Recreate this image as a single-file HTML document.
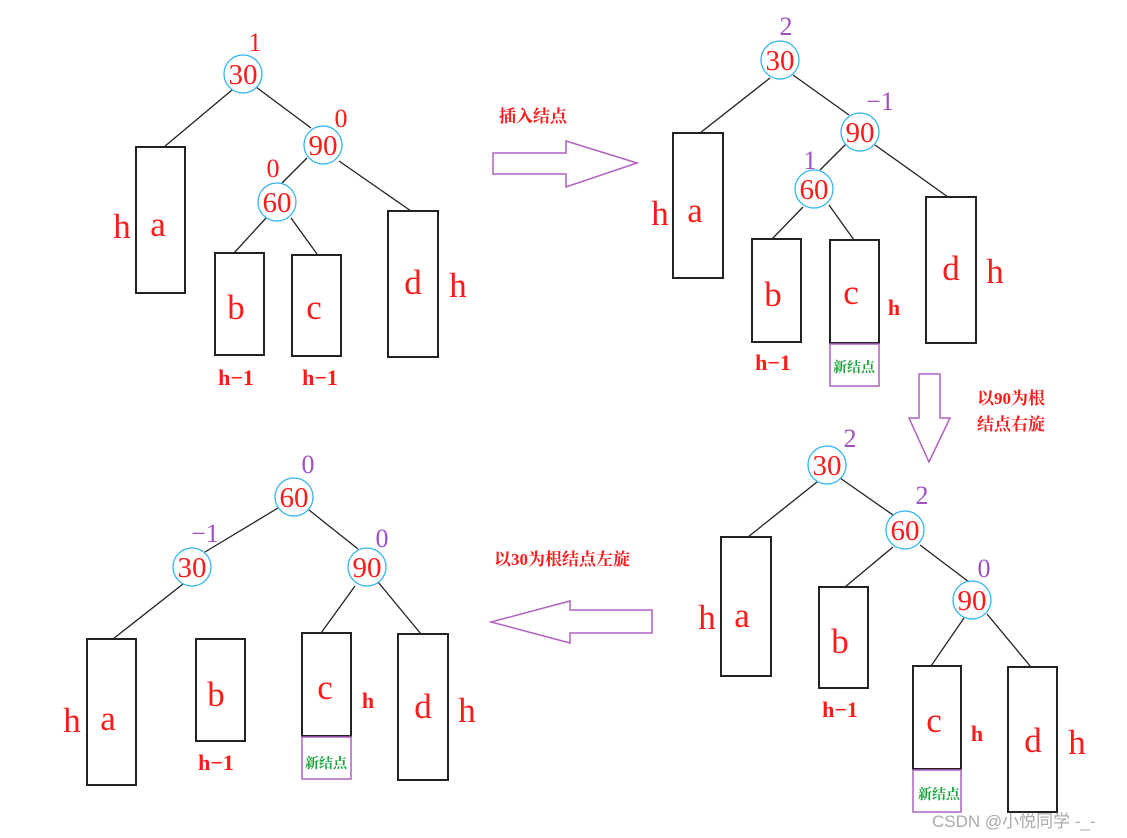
<!DOCTYPE html>
<html><head><meta charset="utf-8"><style>
html,body{margin:0;padding:0;background:#fff;}
svg{display:block;}
.n{font-family:"Liberation Serif","Noto Serif CJK SC",serif;fill:#ff1a1a;font-size:29px;text-anchor:middle;}
.l{font-family:"Liberation Serif","Noto Serif CJK SC",serif;fill:#ff1a1a;font-size:35px;text-anchor:middle;}
.s{font-family:"Liberation Serif","Noto Serif CJK SC",serif;fill:#ff1a1a;font-size:22px;font-weight:bold;text-anchor:middle;}
.p{font-family:"Liberation Serif",serif;font-size:26px;text-anchor:middle;}
.t{font-family:"Liberation Serif","Noto Serif CJK SC",serif;fill:#ff1a1a;font-size:17px;font-weight:bold;}
.g{font-family:"Liberation Serif","Noto Serif CJK SC",serif;fill:#1aa33a;font-size:14px;font-weight:bold;text-anchor:middle;}
circle{fill:none;stroke:#33b5ee;stroke-width:1.3;}
rect.b{fill:none;stroke:#222;stroke-width:2;}
rect.nw{fill:none;stroke:#b060c0;stroke-width:1.5;}
line{stroke:#222;stroke-width:1.3;}
polygon{fill:none;stroke:#b060c0;stroke-width:1.5;}
</style></head><body>
<svg width="1127" height="838" viewBox="0 0 1127 838" xmlns="http://www.w3.org/2000/svg">
<!-- Panel 1 -->
<line x1="232" y1="90" x2="164" y2="147"/>
<line x1="256" y1="87" x2="311" y2="128"/>
<line x1="307" y1="158" x2="282" y2="183"/>
<line x1="339" y1="161" x2="411" y2="211"/>
<line x1="266" y1="218" x2="234" y2="253"/>
<line x1="291" y1="218" x2="317" y2="254"/>
<circle cx="243" cy="74" r="19"/><text class="n" x="243" y="84">30</text>
<circle cx="323" cy="145" r="19"/><text class="n" x="323" y="155">90</text>
<circle cx="277" cy="202" r="19"/><text class="n" x="277" y="212">60</text>
<text class="p" x="255" y="51" fill="#ff1a1a">1</text>
<text class="p" x="341" y="127" fill="#ff1a1a">0</text>
<text class="p" x="273" y="177" fill="#ff1a1a">0</text>
<rect class="b" x="136" y="147" width="49" height="146"/>
<rect class="b" x="215" y="253" width="49" height="102"/>
<rect class="b" x="292" y="255" width="49" height="101"/>
<rect class="b" x="388" y="211" width="50" height="146"/>
<text class="l" x="122" y="238">h</text><text class="l" x="158" y="236">a</text>
<text class="l" x="236" y="319">b</text><text class="l" x="314" y="319">c</text>
<text class="l" x="413" y="294">d</text><text class="l" x="458" y="297">h</text>
<text class="s" x="236" y="385">h−1</text><text class="s" x="320" y="385">h−1</text>

<!-- Arrow right -->
<text class="t" x="499" y="122">插入结点</text>
<polygon points="493,153 566,153 566,141 637,163 566,187 566,174 493,174"/>

<!-- Panel 2 -->
<line x1="770" y1="78" x2="700" y2="133"/>
<line x1="793" y1="75" x2="849" y2="115"/>
<line x1="846" y1="144" x2="820" y2="170"/>
<line x1="875" y1="145" x2="948" y2="197"/>
<line x1="803" y1="207" x2="772" y2="239"/>
<line x1="829" y1="205" x2="854" y2="240"/>
<circle cx="780" cy="60" r="19"/><text class="n" x="780" y="70">30</text>
<circle cx="860" cy="132" r="19"/><text class="n" x="860" y="142">90</text>
<circle cx="814" cy="189" r="19"/><text class="n" x="814" y="199">60</text>
<text class="p" x="786" y="35" fill="#a050c0">2</text>
<text class="p" x="880" y="110" fill="#a050c0">−1</text>
<text class="p" x="810" y="169" fill="#a050c0">1</text>
<rect class="b" x="673" y="133" width="50" height="145"/>
<rect class="b" x="752" y="239" width="49" height="103"/>
<rect class="b" x="830" y="240" width="49" height="103"/>
<rect class="nw" x="830" y="344" width="49" height="42"/>
<rect class="b" x="926" y="197" width="50" height="146"/>
<text class="l" x="660" y="225">h</text><text class="l" x="695" y="222">a</text>
<text class="l" x="773" y="306">b</text><text class="l" x="851" y="304">c</text>
<text class="s" x="894" y="315">h</text>
<text class="l" x="951" y="280">d</text><text class="l" x="995" y="283">h</text>
<text class="s" x="773" y="370">h−1</text>
<text class="g" x="854" y="372">新结点</text>

<!-- Down arrow -->
<polygon points="919,374 940,374 940,418 950,418 929,462 909,418 919,418"/>
<text class="t" x="977" y="404">以90为根</text>
<text class="t" x="977" y="430">结点右旋</text>

<!-- Panel 3 -->
<line x1="817" y1="482" x2="748" y2="537"/>
<line x1="840" y1="478" x2="893" y2="515"/>
<line x1="893" y1="547" x2="845" y2="587"/>
<line x1="920" y1="545" x2="969" y2="582"/>
<line x1="964" y1="618" x2="931" y2="666"/>
<line x1="987" y1="614" x2="1031" y2="667"/>
<circle cx="827" cy="465" r="19"/><text class="n" x="827" y="475">30</text>
<circle cx="905" cy="530" r="19"/><text class="n" x="905" y="540">60</text>
<circle cx="972" cy="600" r="19"/><text class="n" x="972" y="610">90</text>
<text class="p" x="850" y="447" fill="#a050c0">2</text>
<text class="p" x="922" y="504" fill="#a050c0">2</text>
<text class="p" x="984" y="577" fill="#a050c0">0</text>
<rect class="b" x="721" y="537" width="50" height="139"/>
<rect class="b" x="819" y="587" width="49" height="101"/>
<rect class="b" x="913" y="666" width="48" height="103"/>
<rect class="nw" x="913" y="770" width="48" height="42"/>
<rect class="b" x="1008" y="667" width="49" height="145"/>
<text class="l" x="707" y="629">h</text><text class="l" x="742" y="627">a</text>
<text class="l" x="840" y="653">b</text><text class="l" x="934" y="732">c</text>
<text class="s" x="977" y="741">h</text>
<text class="l" x="1033" y="752">d</text><text class="l" x="1077" y="754">h</text>
<text class="s" x="840" y="717">h−1</text>
<text class="g" x="939" y="799">新结点</text>

<!-- Left arrow -->
<text class="t" x="494" y="565">以30为根结点左旋</text>
<polygon points="652,610 570,610 570,601 491,622 570,643 570,633 652,633"/>

<!-- Panel 4 -->
<line x1="278" y1="508" x2="205" y2="552"/>
<line x1="309" y1="510" x2="358" y2="549"/>
<line x1="183" y1="584" x2="113" y2="639"/>
<line x1="355" y1="586" x2="321" y2="633"/>
<line x1="378" y1="582" x2="421" y2="634"/>
<circle cx="294" cy="497" r="19"/><text class="n" x="294" y="507">60</text>
<circle cx="192" cy="567" r="19"/><text class="n" x="192" y="577">30</text>
<circle cx="367" cy="567" r="19"/><text class="n" x="367" y="577">90</text>
<text class="p" x="308" y="473" fill="#a050c0">0</text>
<text class="p" x="205" y="542" fill="#a050c0">−1</text>
<text class="p" x="382" y="547" fill="#a050c0">0</text>
<rect class="b" x="87" y="639" width="49" height="146"/>
<rect class="b" x="196" y="639" width="49" height="102"/>
<rect class="b" x="302" y="633" width="49" height="103"/>
<rect class="nw" x="302" y="737" width="49" height="42"/>
<rect class="b" x="398" y="634" width="50" height="146"/>
<text class="l" x="72" y="732">h</text><text class="l" x="108" y="730">a</text>
<text class="l" x="216" y="706">b</text><text class="l" x="325" y="699">c</text>
<text class="s" x="368" y="708">h</text>
<text class="l" x="423" y="718">d</text><text class="l" x="467" y="722">h</text>
<text class="s" x="216" y="770">h−1</text>
<text class="g" x="326" y="768">新结点</text>

<text x="932" y="827" style="font-family:'Liberation Sans','Noto Sans CJK SC',sans-serif;font-size:17px;fill:#aaa;">CSDN @小悦同学 -_-</text>
</svg>
</body></html>
